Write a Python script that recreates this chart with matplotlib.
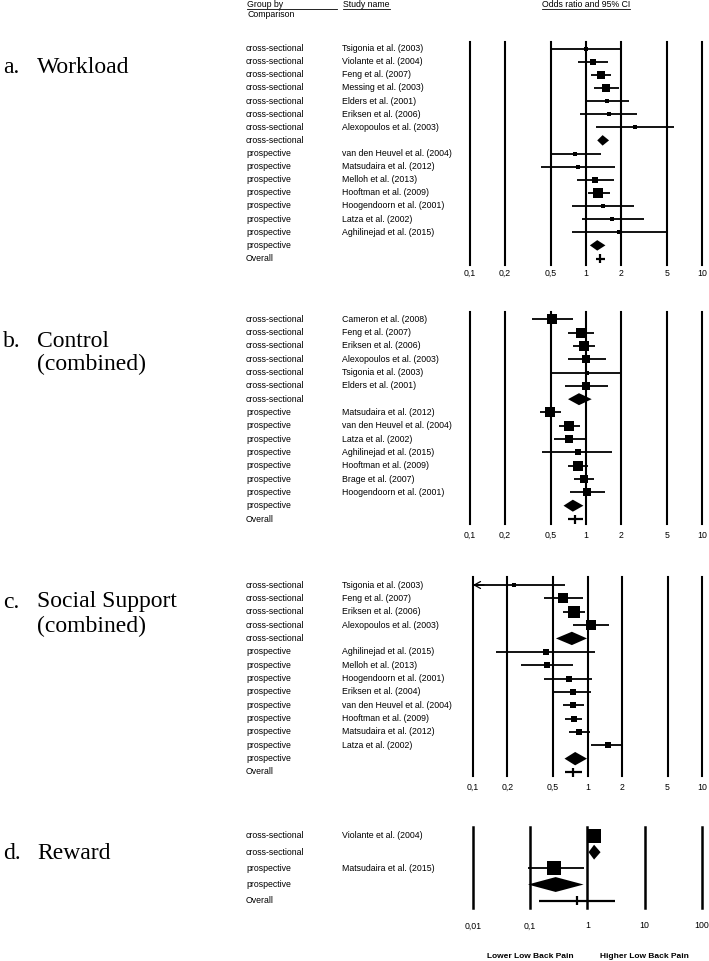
import numpy as np
import matplotlib.pyplot as plt
from matplotlib import transforms
from matplotlib.lines import Line2D
from matplotlib.ticker import NullLocator

# %% data (odds ratios and 95% CI)

wl_group = ["cross-sectional"] * 8 + ["prospective"] * 8 + ["Overall"]
wl_study = ["Tsigonia et al. (2003)", "Violante et al. (2004)", "Feng et al. (2007)",
            "Messing et al. (2003)", "Elders et al. (2001)", "Eriksen et al. (2006)",
            "Alexopoulos et al. (2003)", "",
            "van den Heuvel et al. (2004)", "Matsudaira et al. (2012)", "Melloh et al. (2013)",
            "Hooftman et al. (2009)", "Hoogendoorn et al. (2001)", "Latza et al. (2002)",
            "Aghilinejad et al. (2015)", "", ""]
wl_or = [1.00, 1.14, 1.36, 1.49, 1.51, 1.58, 2.64, 1.39, 0.80, 0.85, 1.20, 1.28, 1.41, 1.68, 1.92, 1.25, 1.33]
wl_lo = [0.50, 0.86, 1.10, 1.17, 1.01, 0.89, 1.22, 1.25, 0.50, 0.41, 0.83, 1.05, 0.76, 0.92, 0.75, 1.08, 1.22]
wl_hi = [2.00, 1.54, 1.63, 1.92, 2.36, 2.73, 5.73, 1.58, 1.34, 1.78, 1.74, 1.61, 2.61, 3.16, 5.00, 1.47, 1.45]
wl_weight = [4, 12, 20, 16, 6, 6, 6, 0, 6, 6, 10.5, 30, 6, 6, 5, 0, 0]

ctl_group = ["cross-sectional"] * 7 + ["prospective"] * 8 + ["Overall"]
ctl_study = ["Cameron et al. (2008)", "Feng et al. (2007)", "Eriksen et al. (2006)",
             "Alexopoulos et al. (2003)", "Tsigonia et al. (2003)", "Elders et al. (2001)", "",
             "Matsudaira et al. (2012)", "van den Heuvel et al. (2004)", "Latza et al. (2002)",
             "Aghilinejad et al. (2015)", "Hooftman et al. (2009)", "Brage et al. (2007)",
             "Hoogendoorn et al. (2001)", "", ""]
ctl_or = [0.51, 0.90, 0.97, 1.00, 1.01, 1.00, 0.87, 0.49, 0.71, 0.72, 0.85, 0.85, 0.97, 1.03, 0.77, 0.80]
ctl_lo = [0.34, 0.70, 0.78, 0.70, 0.50, 0.66, 0.70, 0.40, 0.58, 0.53, 0.42, 0.70, 0.79, 0.73, 0.64, 0.70]
ctl_hi = [0.78, 1.18, 1.20, 1.48, 2.06, 1.54, 1.12, 0.61, 0.88, 1.00, 1.69, 1.05, 1.18, 1.46, 0.95, 0.95]
ctl_weight = [25, 25, 30, 20, 6, 20, 0, 25, 25, 20, 12, 25, 20, 16, 0, 0]

soc_group = ["cross-sectional"] * 5 + ["prospective"] * 9 + ["Overall"]
soc_study = ["Tsigonia et al. (2003)", "Feng et al. (2007)", "Eriksen et al. (2006)",
             "Alexopoulos et al. (2003)", "",
             "Aghilinejad et al. (2015)", "Melloh et al. (2013)", "Hoogendoorn et al. (2001)",
             "Eriksen et al. (2004)", "van den Heuvel et al. (2004)", "Hooftman et al. (2009)",
             "Matsudaira et al. (2012)", "Latza et al. (2002)", "", ""]
soc_or = [0.23, 0.61, 0.76, 1.07, 0.73, 0.43, 0.44, 0.69, 0.75, 0.75, 0.76, 0.85, 1.50, 0.78, 0.75]
soc_lo = [0.07, 0.42, 0.61, 0.74, 0.53, 0.16, 0.26, 0.42, 0.51, 0.61, 0.64, 0.69, 1.08, 0.63, 0.64]
soc_hi = [0.63, 0.91, 0.95, 1.54, 0.99, 1.17, 0.75, 1.09, 1.08, 0.94, 0.90, 1.05, 2.05, 0.99, 0.90]
soc_weight = [6, 30, 36, 30, 0, 9, 9, 9, 10.5, 12, 12, 12, 9, 0, 0]

rew_group = ["cross-sectional", "cross-sectional", "prospective", "prospective", "Overall"]
rew_study = ["Violante et al. (2004)", "", "Matsudaira et al. (2015)", "", ""]
rew_or = [1.31, 1.31, 0.26, 0.28, 0.65]
rew_lo = [1.10, 1.05, 0.092, 0.092, 0.144]
rew_hi = [1.55, 1.70, 0.86, 0.86, 3.06]
rew_weight = [52, 0, 52, 0, 0]

ticks_a = [0.1, 0.2, 0.5, 1, 2, 5, 10]
ticklabels_a = ["0,1", "0,2", "0,5", "1", "2", "5", "10"]
ticks_d = [0.01, 0.1, 1, 10, 100]
ticklabels_d = ["0,01", "0,1", "1", "10", "100"]

# %% layout helpers

W, H = 709, 961
fig = plt.figure(figsize=(W / 100, H / 100), dpi=100)
SANS = "Liberation Sans"
SERIF = "Liberation Serif"
SMALL = 6.3


def fx(px):
    return px / W


def fy(py):
    return 1 - py / H


def forest(box, rows, ticks, ticklabels, tick_y, group, study, est, lo, hi, weight,
           dh=0.42, vlw=1.5):
    left, right, top, bottom = box
    first, last = rows
    n = len(group)
    step = (last - first) / (n - 1)
    ax = fig.add_axes([fx(left), fy(bottom), (right - left) / W, (bottom - top) / H])
    ax.set_xscale("log")
    ax.set_xlim(ticks[0], ticks[-1])
    ax.set_ylim(n - 1 + (bottom - last) / step, -(first - top) / step)
    for s in ax.spines.values():
        s.set_visible(False)
    for v in ticks:
        ax.axvline(v, color="black", lw=vlw, clip_on=False)
    ax.set_xticks(ticks, ticklabels)
    ax.xaxis.set_minor_locator(NullLocator())
    ax.tick_params(axis="x", length=0, labelsize=SMALL, pad=(tick_y - bottom - 4.5) * 0.72)
    for lab in ax.get_xticklabels():
        lab.set_fontfamily(SANS)
    ax.set_yticks([])

    trans = transforms.blended_transform_factory(fig.transFigure, ax.transData)
    oh = 4.5 / step
    for i in range(n):
        ax.text(fx(246), i, group[i], transform=trans, va="center", ha="left",
                fontsize=SMALL, family=SANS)
        if study[i]:
            ax.text(fx(342), i, study[i], transform=trans, va="center", ha="left",
                    fontsize=SMALL, family=SANS)
        if group[i] == "Overall":
            ax.plot([lo[i], hi[i]], [i, i], color="black", lw=1.6, clip_on=False,
                    solid_capstyle="butt")
            ax.plot([est[i], est[i]], [i - oh, i + oh], color="black", lw=1.6,
                    clip_on=False, solid_capstyle="butt")
        elif not study[i]:
            ax.fill([lo[i], est[i], hi[i], est[i]], [i, i - dh, i, i + dh],
                    color="black", lw=0, clip_on=False)
        else:
            x0 = max(lo[i], ticks[0])
            ax.plot([x0, hi[i]], [i, i], color="black", lw=1.3, clip_on=False,
                    solid_capstyle="butt")
            if lo[i] < ticks[0]:
                ax.annotate("", xy=(x0, i), xytext=(x0 * 1.25, i),
                            arrowprops=dict(arrowstyle="->,head_length=0.45,head_width=0.25",
                                            lw=0.9, shrinkA=0, shrinkB=0))
            side = 2 * np.sqrt(weight[i]) * 0.72
            ax.scatter([est[i]], [i], marker="s", s=side ** 2, color="black",
                       linewidths=0, zorder=3, clip_on=False)
    return ax


forest((470, 702, 42.3, 265), (48.5, 258.5), ticks_a, ticklabels_a, 273,
       wl_group, wl_study, wl_or, wl_lo, wl_hi, wl_weight, dh=0.4)
forest((470, 702, 312.3, 524), (319.3, 519), ticks_a, ticklabels_a, 535.7,
       ctl_group, ctl_study, ctl_or, ctl_lo, ctl_hi, ctl_weight, dh=0.45)
forest((473, 702, 577, 776), (585, 772), ticks_a, ticklabels_a, 787,
       soc_group, soc_study, soc_or, soc_lo, soc_hi, soc_weight, dh=0.5)
forest((472.7, 702, 827, 908), (836, 900.7), ticks_d, ticklabels_d, 926,
       rew_group, rew_study, rew_or, rew_lo, rew_hi, rew_weight, dh=0.46, vlw=1.8)

# %% headers and panel titles

fig.text(fx(247), fy(7), "Group by", fontsize=SMALL, family=SANS, va="baseline")
fig.text(fx(247), fy(17), "Comparison", fontsize=SMALL, family=SANS, va="baseline")
fig.text(fx(343), fy(7), "Study name", fontsize=SMALL, family=SANS, va="baseline")
fig.text(fx(586), fy(7), "Odds ratio and 95% CI", fontsize=SMALL, family=SANS,
         va="baseline", ha="center")
for x0, x1 in [(247, 337), (343, 390), (542, 630)]:
    fig.add_artist(Line2D([fx(x0), fx(x1)], [fy(8.8), fy(8.8)], color="black", lw=0.6))

titles = [("a.", ["Workload"], [72.7]),
          ("b.", ["Control", "(combined)"], [346.7, 370.5]),
          ("c.", ["Social Support", "(combined)"], [607.5, 632]),
          ("d.", ["Reward"], [859])]
for letter, lines, ys in titles:
    fig.text(fx(3), fy(ys[0]), letter, fontsize=17, family=SERIF, va="baseline")
    for line, yy in zip(lines, ys):
        fig.text(fx(37), fy(yy), line, fontsize=17, family=SERIF, va="baseline")

fig.text(fx(530.5), fy(956), "Lower Low Back Pain", fontsize=6, family=SANS,
         weight="bold", ha="center", va="center")
fig.text(fx(644), fy(956), "Higher Low Back Pain", fontsize=6, family=SANS,
         weight="bold", ha="center", va="center")

fig.savefig("out.png", dpi=100)
